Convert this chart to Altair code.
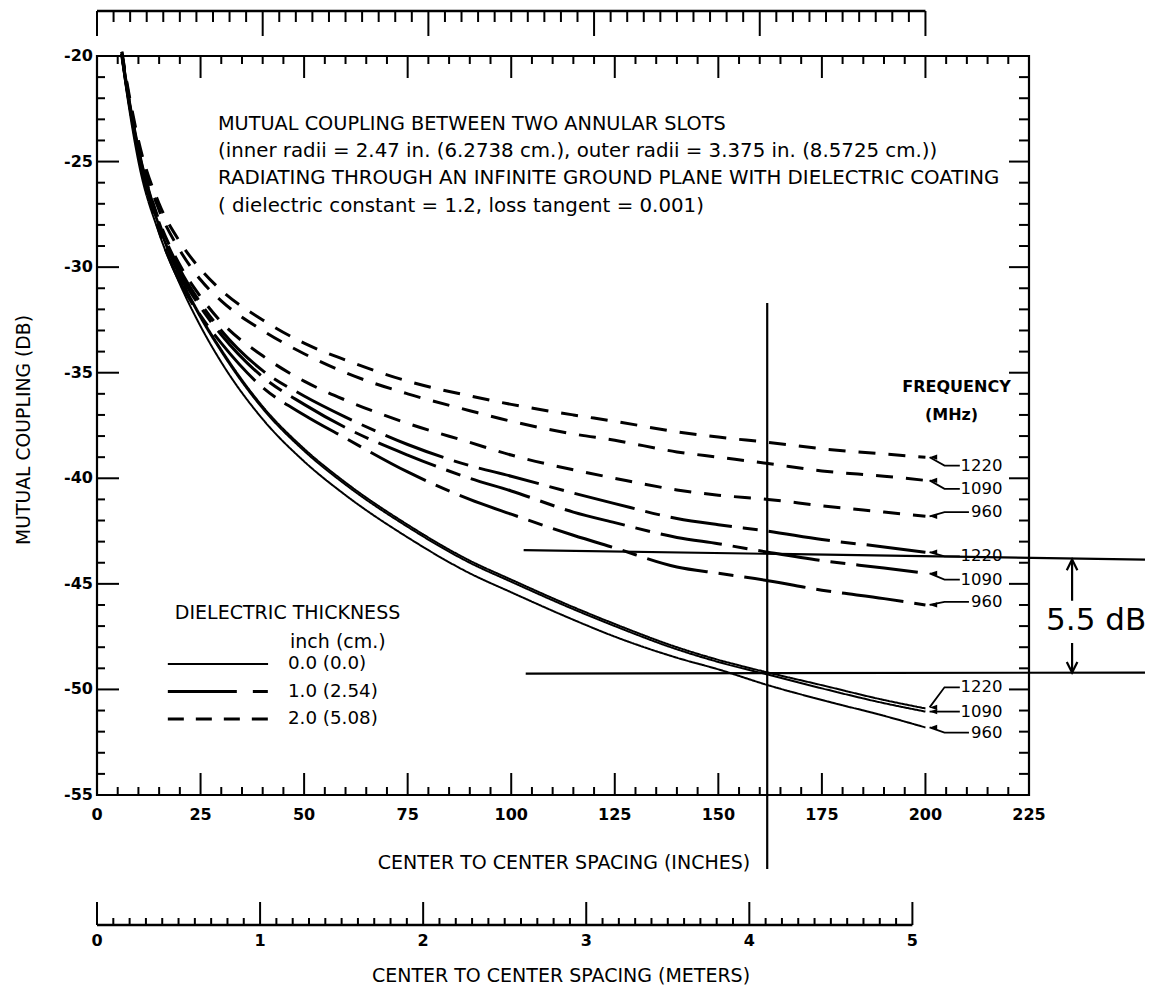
import altair as alt
import pandas as pd

# ---------------- data ----------------
X_IN = [6, 7, 10, 15, 20, 25, 30, 40, 50, 60, 75, 90, 100, 115, 125, 140, 150, 162, 175, 190, 200]

CURVES = {
    ("0.0", "1220"): [-20.0, -21.3, -24.7, -28.0, -30.4, -32.3, -33.9, -36.6, -38.6, -40.2, -42.2, -43.9, -44.8, -46.1, -46.9, -48.0, -48.6, -49.2, -49.8, -50.5, -50.9],
    ("0.0", "1090"): [-20.0, -21.35, -24.8, -28.1, -30.5, -32.4, -34.0, -36.7, -38.7, -40.3, -42.3, -44.0, -44.9, -46.2, -47.0, -48.1, -48.7, -49.3, -49.95, -50.65, -51.05],
    ("0.0", "960"):  [-20.1, -21.5, -25.0, -28.4, -30.8, -32.8, -34.5, -37.2, -39.2, -40.8, -42.8, -44.5, -45.4, -46.7, -47.5, -48.5, -49.05, -49.8, -50.5, -51.25, -51.8],
    ("1.0", "1220"): [-19.9, -21.2, -24.4, -27.9, -30.1, -31.7, -33.0, -34.9, -36.1, -37.1, -38.4, -39.4, -39.9, -40.7, -41.2, -41.9, -42.2, -42.5, -42.9, -43.25, -43.5],
    ("1.0", "1090"): [-19.9, -21.25, -24.5, -28.0, -30.3, -31.9, -33.2, -35.2, -36.5, -37.6, -38.9, -40.0, -40.6, -41.6, -42.1, -42.8, -43.1, -43.5, -43.9, -44.25, -44.5],
    ("1.0", "960"):  [-20.0, -21.3, -24.6, -28.3, -30.7, -32.3, -33.6, -35.7, -37.0, -38.1, -39.7, -41.0, -41.7, -42.7, -43.3, -44.2, -44.5, -44.85, -45.3, -45.7, -46.0],
    ("2.0", "1220"): [-19.8, -21.0, -24.0, -27.0, -28.8, -30.1, -31.1, -32.5, -33.6, -34.4, -35.4, -36.1, -36.5, -37.0, -37.3, -37.8, -38.05, -38.3, -38.6, -38.85, -39.0],
    ("2.0", "1090"): [-19.8, -21.1, -24.2, -27.3, -29.2, -30.6, -31.6, -33.0, -34.1, -35.0, -36.0, -36.8, -37.3, -37.9, -38.2, -38.75, -39.0, -39.3, -39.65, -39.9, -40.1],
    ("2.0", "960"):  [-19.9, -21.2, -24.4, -27.8, -29.9, -31.4, -32.6, -34.2, -35.4, -36.3, -37.4, -38.3, -38.9, -39.6, -40.0, -40.55, -40.8, -41.0, -41.3, -41.6, -41.8],
}

# frequency labels: (thickness, freq, label y, curve-end y)
FREQ_LABELS = [
    ("2.0", "1220", -39.4, -39.0), ("2.0", "1090", -40.5, -40.1), ("2.0", "960", -41.6, -41.8),
    ("1.0", "1220", -43.7, -43.5), ("1.0", "1090", -44.8, -44.5), ("1.0", "960", -45.85, -46.0),
    ("0.0", "1220", -49.9, -50.85), ("0.0", "1090", -51.05, -51.05), ("0.0", "960", -52.05, -51.8),
]

LEGEND_T = ["0.0", "1.0", "2.0"]
LEGEND_TXT = ["0.0 (0.0)", "1.0 (2.54)", "2.0 (5.08)"]
LEGEND_Y = [-48.8, -50.1, -51.4]

TITLE_LINES = [
    "MUTUAL COUPLING BETWEEN TWO ANNULAR SLOTS",
    "(inner radii = 2.47 in. (6.2738 cm.), outer radii = 3.375 in. (8.5725 cm.))",
    "RADIATING THROUGH AN INFINITE GROUND PLANE WITH DIELECTRIC COATING",
    "( dielectric constant = 1.2, loss tangent = 0.001)",
]
TITLE_Y = [-23.2, -24.5, -25.8, -27.1]
TITLE_SIZE = [19.3, 19.8, 19.8, 19.8]

X_TICKS = list(range(0, 226, 25))
Y_TICKS = list(range(-20, -56, -5))
METER_LABELS = [0, 1, 2, 3, 4, 5]
IN_PER_M = 39.37

MARK_X = 161.8           # vertical reference line (inches)
REF_HI = (-43.4, -43.85)  # upper horizontal line, left / right
REF_LO = (-49.25, -49.2)  # lower horizontal line

W, H = 932, 739
FONT = "DejaVu Sans"

# ---------------- helpers ----------------
xs = alt.Scale(domain=[0, 225], nice=False, zero=False)
ysc = alt.Scale(domain=[-55, -20], nice=False, zero=False)
X = lambda f="x": alt.X(f"{f}:Q", scale=xs, axis=None)
Y = lambda f="y": alt.Y(f"{f}:Q", scale=ysc, axis=None)

rows = []
for (t, f), vals in CURVES.items():
    for i, (x, y) in enumerate(zip(X_IN, vals)):
        rows.append({"t": t, "f": f, "x": x, "y": y, "o": i})
curves = pd.DataFrame(rows)

DASH = {"0.0": [1, 0], "1.0": [62, 11, 15, 11], "2.0": [17, 13]}
SW = {"0.0": 2.0, "1.0": 3.0, "2.0": 3.0}

layers = []

# curves
for t in ["0.0", "1.0", "2.0"]:
    layers.append(
        alt.Chart(curves[curves.t == t]).mark_line(
            color="black", strokeWidth=SW[t], strokeDash=DASH[t], interpolate="monotone"
        ).encode(x=X(), y=Y(), detail="f:N", order="o:Q")
    )

# tick labels
layers.append(alt.Chart(pd.DataFrame({"x": X_TICKS})).mark_text(
    font=FONT, fontSize=16, fontWeight="bold", baseline="middle", align="center").encode(
    x=X(), y=alt.value(H + 20), text=alt.Text("x:Q", format="d")))
ylab = pd.DataFrame({"y": Y_TICKS})
ylab["lab"] = ["-" + str(abs(v)) for v in Y_TICKS]
layers.append(alt.Chart(ylab).mark_text(
    font=FONT, fontSize=16, fontWeight="bold", baseline="middle", align="right").encode(
    x=alt.value(-4), y=Y(), text="lab:N"))

# frame ticks
bx = pd.DataFrame({"x": list(range(0, 226, 5))})
bx["major"] = bx.x % 25 == 0
ly = pd.DataFrame({"y": list(range(-20, -56, -1))})
ly["major"] = ly.y % 5 == 0
for major, ln in [(True, 22), (False, 8)]:
    d = bx[bx.major == major]
    layers.append(alt.Chart(d).mark_rule(color="black", strokeWidth=2).encode(
        x=X(), y=alt.value(H), y2=alt.value(H - ln)))
    layers.append(alt.Chart(d).mark_rule(color="black", strokeWidth=2).encode(
        x=X(), y=alt.value(0), y2=alt.value(ln)))
    d2 = ly[ly.major == major]
    layers.append(alt.Chart(d2).mark_rule(color="black", strokeWidth=2).encode(
        y=Y(), x=alt.value(0), x2=alt.value(ln)))
    layers.append(alt.Chart(d2).mark_rule(color="black", strokeWidth=2).encode(
        y=Y(), x=alt.value(W), x2=alt.value(W - (20 if major else 10))))

# top ruler (0..200 in, majors every 40)
TOP_Y = -45
top_line = pd.DataFrame({"x": [0], "x2": [200]})
layers.append(alt.Chart(top_line).mark_rule(color="black", strokeWidth=2.5).encode(
    x=X(), x2="x2:Q", y=alt.value(TOP_Y)))
tt = pd.DataFrame({"x": list(range(0, 201, 4))})
tt["major"] = tt.x % 40 == 0
for major, ln in [(True, 25), (False, 11)]:
    layers.append(alt.Chart(tt[tt.major == major]).mark_rule(color="black", strokeWidth=2).encode(
        x=X(), y=alt.value(TOP_Y), y2=alt.value(TOP_Y + ln)))

# meters ruler
M_Y = 869
mm = pd.DataFrame({"m": [i / 10 for i in range(0, 51)]})
mm["x"] = mm.m * IN_PER_M
mm["major"] = (mm.m * 10).round() % 10 == 0
layers.append(alt.Chart(pd.DataFrame({"x": [0], "x2": [5 * IN_PER_M]})).mark_rule(
    color="black", strokeWidth=2.5).encode(x=X(), x2="x2:Q", y=alt.value(M_Y)))
for major, ln in [(True, 23), (False, 7)]:
    layers.append(alt.Chart(mm[mm.major == major]).mark_rule(color="black", strokeWidth=2).encode(
        x=X(), y=alt.value(M_Y), y2=alt.value(M_Y - ln)))
ml = pd.DataFrame({"m": METER_LABELS})
ml["x"] = ml.m * IN_PER_M
ml["lab"] = ml.m.astype(str)
layers.append(alt.Chart(ml).mark_text(font=FONT, fontSize=16, fontWeight="bold", baseline="middle").encode(
    x=X(), y=alt.value(M_Y + 16), text="lab:N"))

# reference lines
layers.append(alt.Chart(pd.DataFrame({"x": [MARK_X], "y": [-31.7], "y2": [-58.5]})).mark_rule(
    color="black", strokeWidth=2.2).encode(x=X(), y=Y(), y2="y2:Q"))
hl = pd.DataFrame({"x": [103, 253, 103.5, 253], "y": [REF_HI[0], REF_HI[1], REF_LO[0], REF_LO[1]],
                   "g": ["a", "a", "b", "b"]})
layers.append(alt.Chart(hl).mark_line(color="black", strokeWidth=2.2).encode(x=X(), y=Y(), detail="g:N"))

# 5.5 dB annotation
AX = 235.4
arr = pd.DataFrame({"x": [AX, AX], "y": [-45.8, -47.8], "y2": [REF_HI[1], REF_LO[1]]})
layers.append(alt.Chart(arr).mark_rule(color="black", strokeWidth=2.2).encode(x=X(), y=Y(), y2="y2:Q"))
layers.append(alt.Chart(pd.DataFrame({"x": [AX], "y": [REF_HI[1]]})).mark_point(
    shape="M-0.5,1L0,0L0.5,1", filled=False, stroke="black", strokeWidth=2.2, size=450, opacity=1
).encode(x=X(), y=Y()))
layers.append(alt.Chart(pd.DataFrame({"x": [AX], "y": [REF_LO[1]]})).mark_point(
    shape="M-0.5,-1L0,0L0.5,-1", filled=False, stroke="black", strokeWidth=2.2, size=450, opacity=1
).encode(x=X(), y=Y()))
layers.append(alt.Chart(pd.DataFrame({"x": [241.2], "y": [-46.75], "t": ["5.5 dB"]})).mark_text(
    font=FONT, fontSize=31, baseline="middle", align="center").encode(x=X(), y=Y(), text="t:N"))

# frequency labels and leaders
lead_rows, tips, labs = [], [], []
for k, (t, f, ly_, ty) in enumerate(FREQ_LABELS):
    end_x = 208.3 if len(f) == 4 else 210.5
    pts = [(201.0, ty), (204.6, ly_), (end_x, ly_)]
    for i, (x, y) in enumerate(pts):
        lead_rows.append({"id": k, "o": i, "x": x, "y": y})
    tips.append({"x": 201.0, "y": ty})
    labs.append({"x": 218.6, "y": ly_, "t": f})
layers.append(alt.Chart(pd.DataFrame(lead_rows)).mark_line(color="black", strokeWidth=1.8).encode(
    x=X(), y=Y(), detail="id:N", order="o:Q"))
layers.append(alt.Chart(pd.DataFrame(tips)).mark_point(
    shape="M0,0L1.6,-0.55L1.6,0.55Z", filled=True, color="black", size=90, opacity=1).encode(x=X(), y=Y()))
layers.append(alt.Chart(pd.DataFrame(labs)).mark_text(
    font=FONT, fontSize=16.5, align="right", baseline="middle").encode(x=X(), y=Y(), text="t:N"))
layers.append(alt.Chart(pd.DataFrame({"x": [207.5, 206.3], "y": [-35.7, -37.0], "t": ["FREQUENCY", "(MHz)"]})
              ).mark_text(font=FONT, fontSize=16, fontWeight="bold", align="center", baseline="middle").encode(
    x=X(), y=Y(), text="t:N"))

# title block
tdf = pd.DataFrame({"x": [29.2] * 4, "y": TITLE_Y, "t": TITLE_LINES})
for i in range(4):
    layers.append(alt.Chart(tdf.iloc[[i]]).mark_text(
        font=FONT, fontSize=TITLE_SIZE[i], align="left", baseline="middle").encode(
        x=X(), y=Y(), text="t:N"))

# legend
leg_rows = []
for t, y in zip(LEGEND_T, LEGEND_Y):
    leg_rows += [{"t": t, "x": 17.1, "y": y}, {"t": t, "x": 41.3, "y": y}]
leg = pd.DataFrame(leg_rows)
LEG_DASH = {"0.0": [1, 0], "1.0": [69, 16, 15, 200], "2.0": [16, 12]}
for t in LEGEND_T:
    layers.append(alt.Chart(leg[leg.t == t]).mark_line(
        color="black", strokeWidth=SW[t], strokeDash=LEG_DASH[t]).encode(x=X(), y=Y()))
layers.append(alt.Chart(pd.DataFrame({"x": [46.1] * 3, "y": LEGEND_Y, "t": LEGEND_TXT})).mark_text(
    font=FONT, fontSize=18.3, align="left", baseline="middle").encode(x=X(), y=Y(), text="t:N"))
layers.append(alt.Chart(pd.DataFrame({"x": [18.8, 46.6], "y": [-46.4, -47.75],
                                      "t": ["DIELECTRIC THICKNESS", "inch (cm.)"]})).mark_text(
    font=FONT, fontSize=19, align="left", baseline="middle").encode(x=X(), y=Y(), text="t:N"))

# axis titles
layers.append(alt.Chart(pd.DataFrame({"t": ["CENTER TO CENTER SPACING (INCHES)"]})).mark_text(
    font=FONT, fontSize=19, align="center", baseline="middle").encode(
    x=alt.value(467), y=alt.value(807), text="t:N"))
layers.append(alt.Chart(pd.DataFrame({"t": ["CENTER TO CENTER SPACING (METERS)"]})).mark_text(
    font=FONT, fontSize=19, align="center", baseline="middle").encode(
    x=alt.value(464), y=alt.value(920), text="t:N"))
layers.append(alt.Chart(pd.DataFrame({"t": ["MUTUAL COUPLING (DB)"]})).mark_text(
    font=FONT, fontSize=18.8, align="center", baseline="middle", angle=270).encode(
    x=alt.value(-73), y=alt.value(374), text="t:N"))

chart = alt.layer(*layers).properties(
    width=W, height=H,
    autosize=alt.AutoSizeParams(type="none"),
    padding={"left": 89, "top": 48, "right": 125, "bottom": 195},
    background="white",
).configure_view(stroke="black", strokeWidth=2.2)

chart.save("out.html", embed_options={"renderer": "svg", "actions": False})
